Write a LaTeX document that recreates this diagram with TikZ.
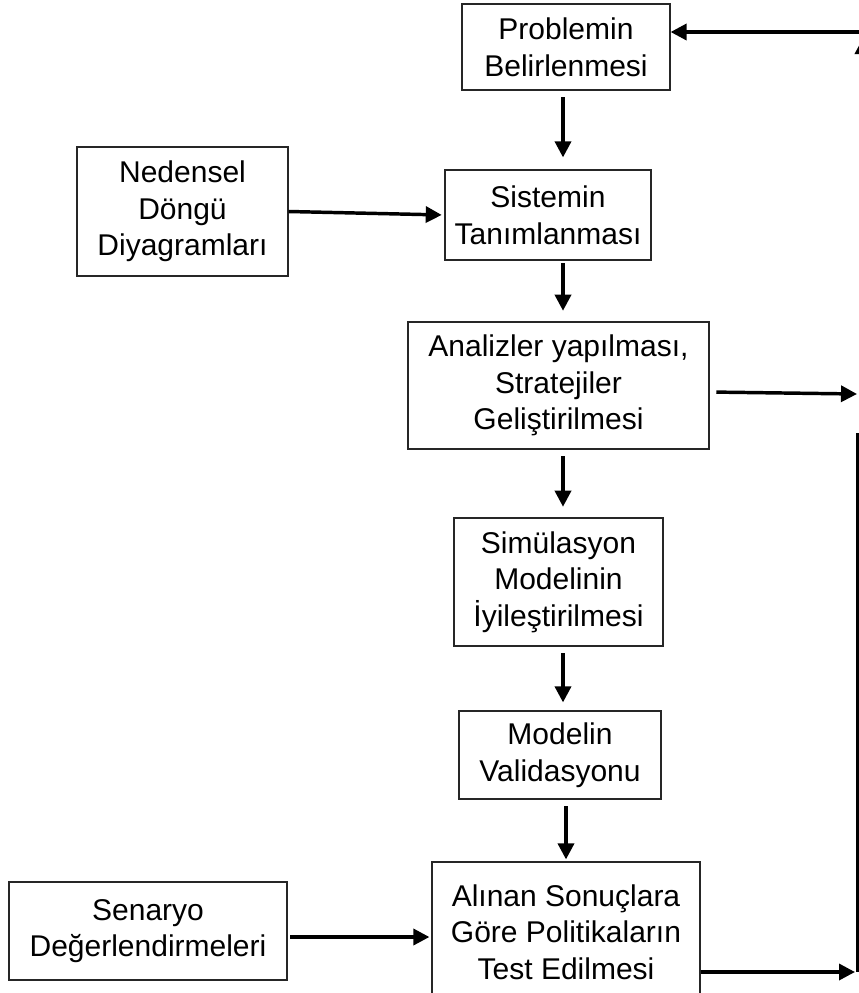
\documentclass[tikz,border=0pt]{standalone}
\usepackage{fontspec}
\setmainfont{Liberation Sans}
\usetikzlibrary{arrows.meta,calc}
\begin{document}
\begin{tikzpicture}[x=0.75pt,y=-0.75pt,
  stepbox/.style={draw=black!85,line width=0.9pt,align=center,inner sep=0pt,
    font=\fontsize{22.5}{27.5}\selectfont},
  arr/.style={line width=2.6pt,-{Triangle[length=12pt,width=12pt]}},
  rail/.style={line width=2.6pt}]
\useasboundingbox (0,0) rectangle (859,993);
\clip (0,0) rectangle (859,993);

% process boxes
\node[stepbox,minimum width=156pt,minimum height=64.5pt] (prob) at (566,47) {Problemin\\Belirlenmesi};
\node[stepbox,minimum width=154.5pt,minimum height=67.5pt] (sis) at (548,215) {Sistemin\\Tanımlanması};
\node[stepbox,minimum width=158.25pt,minimum height=96.75pt] (ned) at (182.5,211.5) {Nedensel\\Döngü\\Diyagramları};
\node[stepbox,minimum width=225.75pt,minimum height=95.25pt] (ana) at (558.5,385.5) {Analizler yapılması,\\Stratejiler\\Geliştirilmesi};
\node[stepbox,minimum width=156.75pt,minimum height=96pt] (sim) at (558.5,582) {Simülasyon\\Modelinin\\İyileştirilmesi};
\node[stepbox,minimum width=151.5pt,minimum height=66pt] (val) at (560,755) {Modelin\\Validasyonu};
\node[stepbox,minimum width=201pt,minimum height=105pt] (test) at (566,932) {Alınan Sonuçlara\\Göre Politikaların\\Test Edilmesi};
\node[stepbox,minimum width=208.5pt,minimum height=73.5pt] (sen) at (148,931) {Senaryo\\Değerlendirmeleri};

% free ends on the right-hand rail
\coordinate (anaR) at (857,394);
\coordinate (testR) at (855,972);
\coordinate (railTop) at (858,433);
\coordinate (railBot) at (858,972);
\coordinate (back) at (900,32);
\coordinate (upBase) at (863,52);
\coordinate (upTip) at (863,38);

% main chain
\draw[arr,shorten <=5pt,shorten >=9pt] (prob.south -| 563,0) -- (sis.north -| 563,0);
\draw[arr,shorten <=2pt,shorten >=8pt] (sis.south -| 563,0) -- (ana.north -| 563,0);
\draw[arr,shorten <=5pt,shorten >=8pt] (ana.south -| 563,0) -- (sim.north -| 563,0);
\draw[arr,shorten <=5pt,shorten >=6pt] (sim.south -| 563,0) -- (val.north -| 563,0);
\draw[arr,shorten <=5pt,shorten >=1.5pt] (val.south -| 566,0) -- (test.north -| 566,0);

% side inputs
\draw[arr,shorten >=2pt] (ned.east) -- (sis.west);
\draw[arr,shorten <=2pt,shorten >=1.5pt] (sen.east |- 0,937) -- (test.west |- 0,937);

% outputs to the feedback rail
\draw[arr,shorten <=5pt] (ana.east |- 0,392) -- (anaR);
\draw[arr] (test.east |- testR) -- (testR);
\draw[rail] (railTop) -- (railBot);

% feedback into the first box
\draw[arr] (back) -- (prob.east |- back);
\draw[arr] (upBase) -- (upTip);
\end{tikzpicture}
\end{document}
